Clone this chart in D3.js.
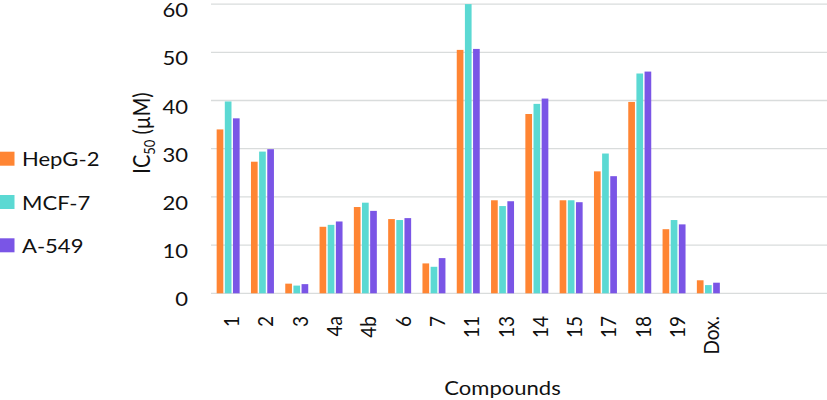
<!DOCTYPE html>
<html>
<head>
<meta charset="utf-8">
<script src="https://cdn.jsdelivr.net/npm/d3@7"></script>
<style>
  body { margin: 0; background: #fff; }
  text { font-family: Lato, "Open Sans", sans-serif; fill: #111; }
</style>
</head>
<body>
<div id="chart"></div>
<script>
// data
let compounds = ["1", "2", "3", "4a", "4b", "6", "7", "11", "13", "14", "15", "17", "18", "19", "Dox."];
let seriesNames = ["HepG-2", "MCF-7", "A-549"];
let hepg2 = [34.0, 27.3, 2.0, 13.8, 17.9, 15.4, 6.2, 50.5, 19.3, 37.2, 19.3, 25.3, 39.7, 13.3, 2.7];
let mcf7  = [39.8, 29.4, 1.6, 14.2, 18.8, 15.2, 5.5, 60.0, 18.1, 39.3, 19.3, 29.0, 45.6, 15.2, 1.7];
let a549  = [36.3, 29.9, 1.9, 14.9, 17.1, 15.6, 7.3, 50.7, 19.1, 40.4, 18.9, 24.3, 46.0, 14.3, 2.2];
let yTicks = [0, 10, 20, 30, 40, 50, 60];
let colors = ["#FF8533", "#5BD9D3", "#7A55E6"];

let width = 827, height = 400;
let svg = d3.select("#chart").append("svg")
    .attr("width", width)
    .attr("height", height);

let plotLeft = 211, plotRight = 827;
let bandW = 34.3;
let fs = 19;
// the figure's lettering is wider than Lato, stretch it sideways
let sx = 1.16;

let x = d3.scaleBand()
    .domain(compounds)
    .range([plotLeft, plotLeft + compounds.length * bandW])
    .paddingInner(0.33)
    .paddingOuter(0.165);

let xSub = d3.scaleBand()
    .domain(seriesNames)
    .range([0, x.bandwidth()])
    .paddingInner(0.18);

let y = d3.scaleLinear()
    .domain([0, 60])
    .range([293.3, 4.1]);

// gridlines
svg.append("g")
    .selectAll("line")
    .data(yTicks)
    .enter()
    .append("line")
    .attr("x1", plotLeft)
    .attr("x2", plotRight)
    .attr("y1", d => y(d))
    .attr("y2", d => y(d))
    .attr("stroke", "#d9dcdc")
    .attr("stroke-width", 1.3);

// y tick labels
svg.append("g")
    .selectAll("text")
    .data(yTicks)
    .enter()
    .append("text")
    .attr("transform", d => `translate(188,${y(d) + 13}) scale(${sx},1)`)
    .attr("text-anchor", "end")
    .attr("font-size", fs)
    .text(d => d);

// bars
let tableData = compounds.map((c, i) => ({
    name: c,
    values: [hepg2[i], mcf7[i], a549[i]]
}));

let groups = svg.append("g")
    .selectAll("g.grp")
    .data(tableData)
    .enter()
    .append("g")
    .attr("class", "grp")
    .attr("transform", d => `translate(${x(d.name)},0)`);

groups.selectAll("rect")
    .data(d => d.values.map((v, j) => ({ series: seriesNames[j], value: v, color: colors[j] })))
    .enter()
    .append("rect")
    .attr("x", d => xSub(d.series))
    .attr("width", xSub.bandwidth())
    .attr("y", d => y(d.value))
    .attr("height", d => y(0) - y(d.value))
    .attr("fill", d => d.color);

// x tick labels, rotated
svg.append("g")
    .selectAll("text")
    .data(compounds)
    .enter()
    .append("text")
    .attr("transform", d => `translate(${x(d) + x.bandwidth() / 2 + 11},316) scale(${sx},1) rotate(-90)`)
    .attr("text-anchor", "end")
    .attr("font-size", fs)
    .text(d => d);

// axis titles
let yTitle = svg.append("text")
    .attr("transform", `translate(150,133) scale(${sx},1) rotate(-90)`)
    .attr("text-anchor", "middle")
    .attr("font-size", fs + 1);
yTitle.append("tspan").text("IC");
yTitle.append("tspan").attr("font-size", 13).attr("dy", 4).text("50");
yTitle.append("tspan").attr("dy", -4).text(" (µM)");

svg.append("text")
    .attr("transform", `translate(502.5,395) scale(${sx},1)`)
    .attr("text-anchor", "middle")
    .attr("font-size", fs)
    .text("Compounds");

// legend
let legend = svg.append("g")
    .selectAll("g")
    .data(seriesNames)
    .enter()
    .append("g")
    .attr("transform", (d, i) => `translate(0,${151.7 + i * 43.3})`);

legend.append("rect")
    .attr("width", 14.5)
    .attr("height", 14)
    .attr("fill", (d, i) => colors[i]);

legend.append("text")
    .attr("transform", `translate(22,14.5) scale(${sx},1)`)
    .attr("font-size", fs)
    .text(d => d);
</script>
</body>
</html>
